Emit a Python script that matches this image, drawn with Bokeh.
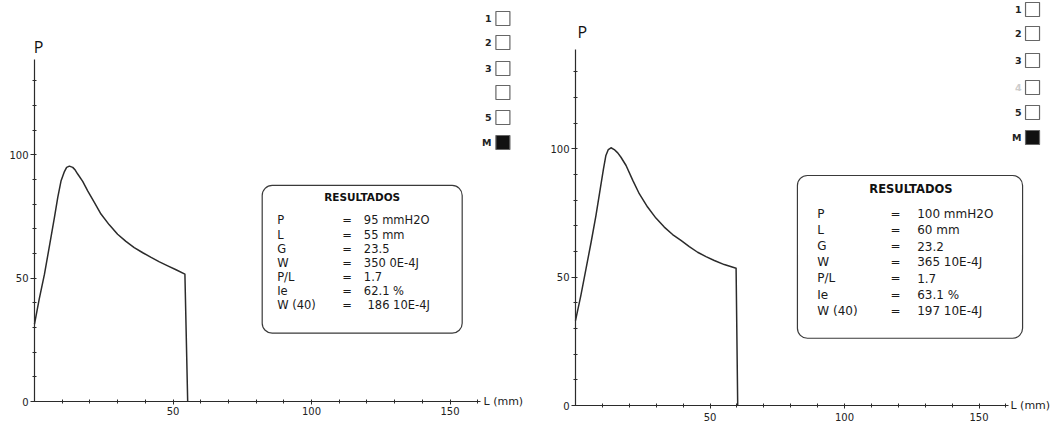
from bokeh.plotting import figure
from bokeh.layouts import row
from bokeh.models import FixedTicker, BoxAnnotation, ColumnDataSource, Range1d, Label
from bokeh.embed import file_html
from bokeh.resources import INLINE
from bokeh.core.properties import value

# ---------------- data ----------------
left_L = [0, 1.7, 3.6, 5.4, 7.2, 8.4, 9.6, 10.8, 11.6, 12.6, 13.8, 14.7, 15.6, 17.4, 19.2,
          21.6, 24.0, 27.0, 30.0, 33.0, 36.0, 39.1, 42.1, 45.1, 48.1, 51.1, 54.3, 55.3]
left_P = [31.4, 41.5, 51.6, 63.1, 74.6, 82.7, 89.5, 93.2, 94.9, 95.4, 94.9, 93.8, 92.2, 89.2, 85.4,
          80.7, 76.0, 71.6, 67.8, 64.9, 62.4, 60.3, 58.4, 56.6, 55.0, 53.4, 51.6, 0]

right_L = [0, 2.0, 3.9, 5.8, 7.6, 9.2, 10.4, 11.3, 12.2, 13.2, 14.4, 15.7, 16.9, 18.8, 21.3,
           23.7, 26.8, 29.9, 33.0, 36.1, 39.2, 42.3, 45.4, 48.5, 51.6, 55.3, 59.7, 60.3]
right_P = [33.1, 42.9, 53.2, 63.6, 74.0, 84.4, 92.2, 97.4, 99.7, 100.4, 99.7, 98.4, 96.7, 93.5, 87.7,
           82.5, 77.3, 73.0, 69.5, 66.6, 64.3, 61.9, 59.7, 58.0, 56.5, 54.9, 53.5, 0]

res_title = "RESULTADOS"
res_labels = ["P", "L", "G", "W", "P/L", "Ie", "W (40)"]
res_eq = ["=", "=", "=", "=", "=", "=", "="]
left_values = ["95 mmH2O", "55 mm", "23.5", "350 0E-4J", "1.7", "62.1 %", "\u00a0186 10E-4J"]
right_values = ["100 mmH2O", "60 mm", "23.2", "365 10E-4J", "1.7", "63.1 %", "197 10E-4J"]

left_legend = ["1", "2", "3", "", "5", "M"]
right_legend = ["1", "2", "3", "4", "5", "M"]
legend_filled = [False, False, False, False, False, True]

x_major = [50, 100, 150]
x_minor = [10, 20, 30, 40, 60, 70, 80, 90, 110, 120, 130, 140, 160]
y_major = [0, 50, 100]
y_minor = [10, 20, 30, 40, 60, 70, 80, 90, 110, 120, 130]
x_title = "L (mm)"
y_title = "P"

TICK_FONT = "DejaVu Sans"
INK = "#2b2b2b"


def make_panel(width, height, x0, y0, xpx, ypx, L, P, values, legend,
               box, rows, legend_pos, opts):
    # the frame covers the whole canvas; the axes sit at data 0 via fixed_location
    p = figure(width=width, height=height, output_backend="svg", toolbar_location=None,
               x_range=Range1d(-x0 / xpx, (width - x0) / xpx),
               y_range=Range1d(-(height - y0) / ypx, y0 / ypx),
               min_border_left=0, min_border_bottom=0,
               min_border_top=0, min_border_right=0)
    p.background_fill_color = "white"
    p.border_fill_color = "white"
    p.outline_line_color = None
    p.grid.visible = False

    xa = p.xaxis[0]
    xa.ticker = FixedTicker(ticks=x_major, minor_ticks=x_minor)
    xa.bounds = (0, 161)
    xa.fixed_location = 0
    ya = p.yaxis[0]
    ya.ticker = FixedTicker(ticks=y_major, minor_ticks=y_minor)
    ya.bounds = (0, 138.5)
    ya.fixed_location = 0
    for ax in (xa, ya):
        ax.axis_line_color = INK
        ax.axis_line_width = 1.2
        ax.major_tick_line_color = INK
        ax.minor_tick_line_color = INK
        ax.major_tick_line_width = 1
        ax.minor_tick_line_width = 1
        ax.major_tick_in = 2
        ax.minor_tick_in = 2
        ax.minor_tick_out = 2
        ax.major_label_text_font = TICK_FONT
        ax.major_label_text_font_size = "10px"
        ax.major_label_text_color = "#222222"
    ya.major_tick_out = 4
    ya.major_label_standoff = 2
    xa.major_tick_out = 3
    xa.major_label_standoff = opts["standoff"]

    # curve
    p.line(L, P, line_color=INK, line_width=1.5, line_join="round")

    # axis titles
    p.add_layout(Label(x=opts["lx"], y=0, text=x_title, text_font=TICK_FONT,
                       text_font_size="11px", text_color="#222222", text_align="left",
                       text_baseline="middle"))
    p.add_layout(Label(x=opts["px"], y=opts["py"], text=y_title, text_font="Open Sans",
                       text_font_size="16px", text_color="#111111", text_align="left",
                       text_baseline="middle"))

    # results box
    bl, br, bb, bt = box
    p.add_layout(BoxAnnotation(left=bl, right=br, bottom=bb, top=bt, fill_color=None,
                               line_color="#3a3a3a", line_alpha=1.0, line_width=1.2,
                               border_radius=10))
    hx, hy, lx, ex, vx, ytop, step = rows
    p.text(x=[hx], y=[hy], text=[res_title], text_font=value(TICK_FONT), text_font_style="bold",
           text_font_size=opts["head"], text_color="#111111", text_align="center", text_baseline="middle")
    ys = [ytop - i * step for i in range(len(res_labels))]
    src = ColumnDataSource(dict(y=ys, lab=res_labels, eq=res_eq, val=values))
    for xx, col in ((lx, "lab"), (ex, "eq"), (vx, "val")):
        p.text(x=xx, y="y", text=col, source=src, text_font=value(TICK_FONT),
               text_font_size=opts["body"], text_color="#1a1a1a", text_align="left", text_baseline="middle")

    # instrument legend squares
    sq_x, lab_x, sq_ys = legend_pos
    fills = ["#111111" if f else "white" for f in legend_filled]
    p.rect(x=[sq_x] * len(sq_ys), y=sq_ys, width=14, height=14, width_units="screen",
           height_units="screen", fill_color=fills, line_color="#666666", line_width=1.2)
    colors = ["#cccccc" if t == "4" else "#222222" for t in legend]
    p.text(x=[lab_x] * len(sq_ys), y=sq_ys, text=legend, text_color=colors,
           text_font=value(TICK_FONT), text_font_style="bold", text_font_size="9.5px",
           text_align="right", text_baseline="middle")
    return p


# left panel: origin at screen (34, 401), 2.77 px per mm, 2.467 px per mmH2O
lyp = lambda sy: (401 - sy) / 2.467
p1 = make_panel(540, 428, 34, 401, 2.77, 2.467, left_L, left_P, left_values, left_legend,
                box=(82.2, 154.4, 27.7, 87.6),
                rows=(118.3, 82.8, 87.6, 111.1, 118.9, 73.4, 5.72),
                legend_pos=(169.1, 165.0, [lyp(s) for s in (18, 42, 68, 92, 117, 142)]),
                opts=dict(head="10.5px", body="11.5px", px=-0.3, py=143.5, lx=162.1, standoff=2))

# right panel: origin at screen (575, 405), 2.69 px per mm, 2.567 px per mmH2O
ryp = lambda sy: (405 - sy) / 2.567
p2 = make_panel(517, 428, 35, 405, 2.69, 2.567, right_L, right_P, right_values, right_legend,
                box=(82.5, 166.2, 26.2, 89.6),
                rows=(124.7, 84.4, 89.9, 117.1, 127.0, 74.7, 6.3),
                legend_pos=(169.9, 165.8, [ryp(s) for s in (9, 33, 60, 87, 112, 137)]),
                opts=dict(head="11.5px", body="12px", px=0.7, py=145.5, lx=161.7, standoff=4))

layout = row(p1, p2)
open("out.html", "w").write(file_html(layout, INLINE))
